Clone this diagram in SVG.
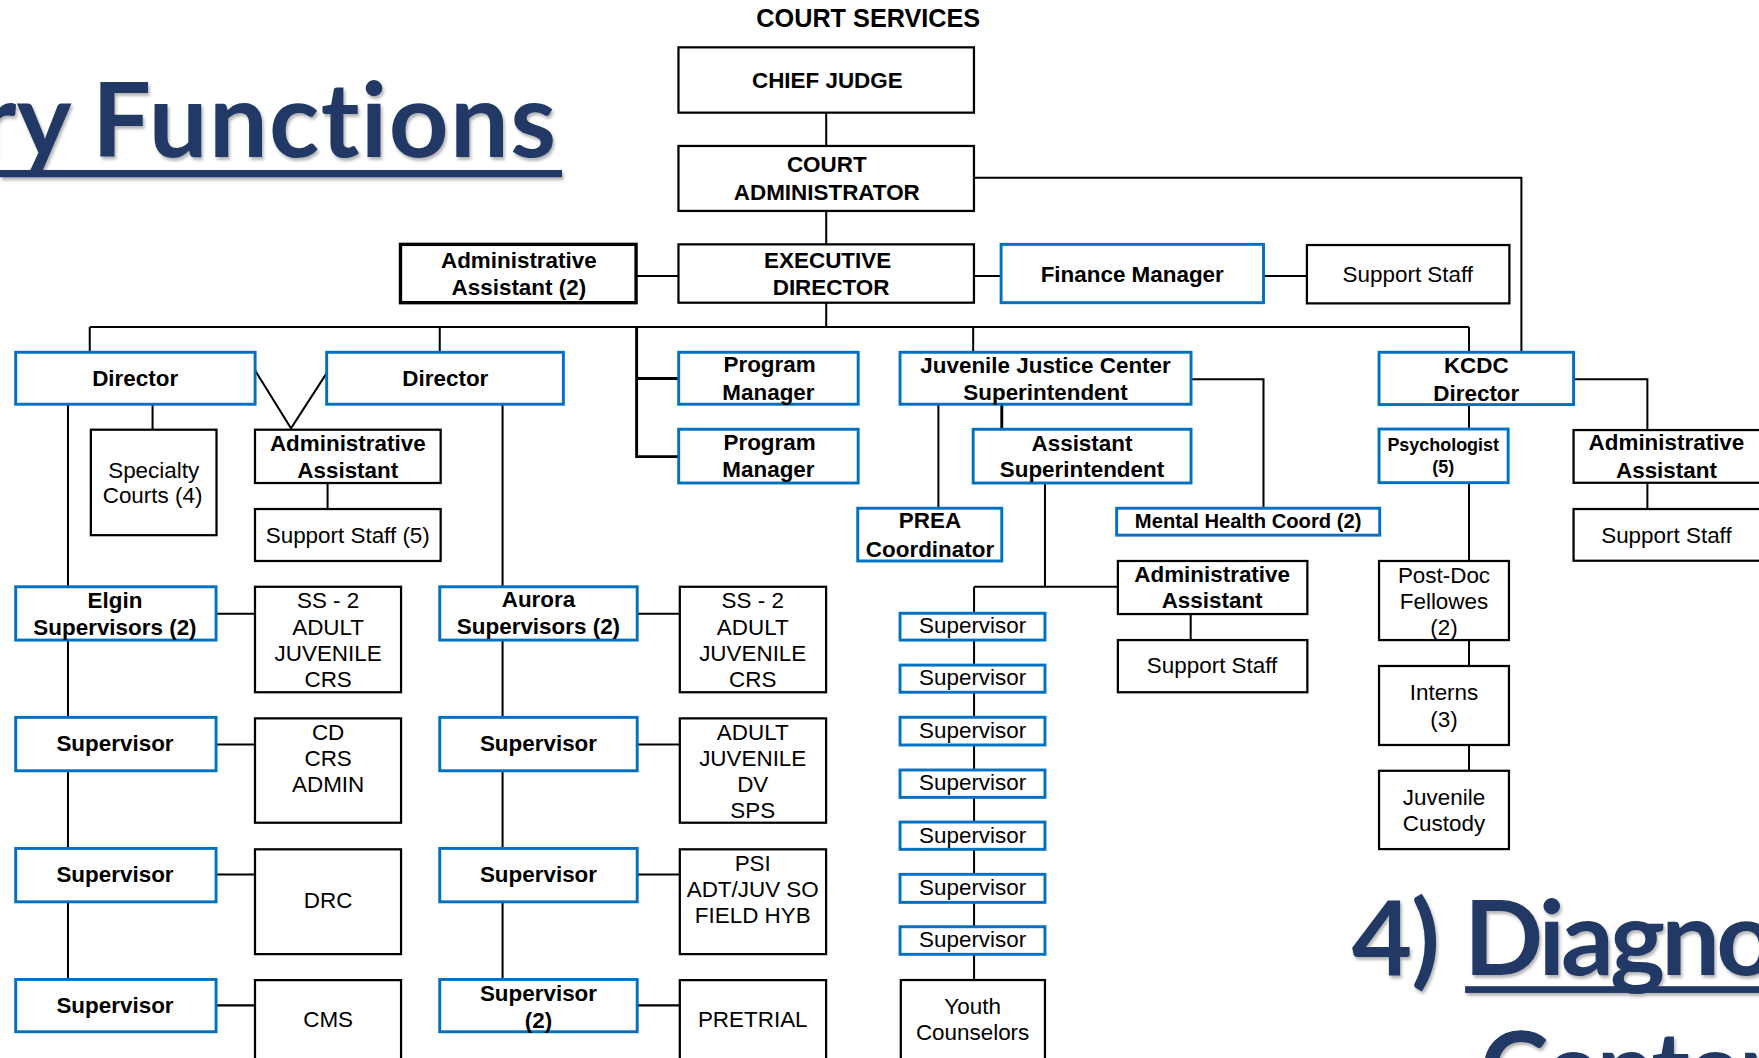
<svg xmlns="http://www.w3.org/2000/svg" width="1759" height="1058" viewBox="0 0 1759 1058">
<defs>
<filter id="sh" x="-5%" y="-20%" width="110%" height="140%">
<feDropShadow dx="1.5" dy="2.5" stdDeviation="1.5" flood-color="#000" flood-opacity="0.3"/>
</filter>
<style>
.k{fill:#fff;stroke:#000;stroke-width:2}
.kk{fill:#fff;stroke:#000;stroke-width:3}
.b{fill:#fff;stroke:#0070C0;stroke-width:2.6}
.ln{stroke:#000;stroke-width:1.8;fill:none}
.th{stroke:#000;stroke-width:2.6;fill:none}
text{font-family:"Liberation Sans",Arial,sans-serif;font-size:20px;text-anchor:middle;fill:#000}
.bd{font-weight:bold}
.ttl{font-family:Lato,"Open Sans",sans-serif;font-weight:bold;font-size:93px;fill:#213965;text-anchor:start;font-variant-ligatures:none}
</style>
</defs>
<rect width="1759" height="1058" fill="#fff"/>
<g transform="scale(1.12181,1.12195)">
<g id="title-left" filter="url(#sh)">
<text class="ttl" x="-20" y="140">ry <tspan x="82" letter-spacing="1.2">Functions</tspan></text>
<rect x="0" y="151.5" width="501" height="6.5" fill="#213965"/>
</g>
<g id="title-right" filter="url(#sh)">
<text class="ttl" x="1205" y="869" letter-spacing="-1">4) <tspan x="1305" letter-spacing="-3.5">Diagno</tspan></text>
<rect x="1306" y="879" width="270" height="6" fill="#213965"/>
<text class="ttl" x="1319" y="986" letter-spacing="-3">Center</text>
</g>
<text id="heading" class="bd" x="774" y="24" style="font-size:22.5px">COURT SERVICES</text>

<g id="connectors">
<path class="ln" d="M736.5 100.4V130.1M736.5 188V217.8M736.5 269.8V291.5"/>
<path class="ln" d="M868.2 158.4H1356.2V314"/>
<path class="ln" d="M567 246H605M868.2 246H892.4M1126.3 246H1165"/>
<path class="ln" d="M80 291.5H1309.5M80 291.5V314M392 291.5V314M867.5 291.5V314M1309.5 291.5V314"/>
<path class="th" d="M567.5 291.5V407H605M567.5 337.3H605"/>
<path class="ln" d="M227.3 330L259.4 381.7L291.2 332.6"/>
<path class="ln" d="M136 360V383M292 430.5V453.7"/>
<path class="ln" d="M60.6 360V873M448 360V873"/>
<path class="ln" d="M192.6 547H227M192.6 663.5H227M192.6 779.4H227M192.6 896.1H227"/>
<path class="ln" d="M568 547H606M568 663.5H606M568 779.4H606M568 896.1H606"/>
<path class="ln" d="M1061.7 338H1126.3V453"/>
<path class="ln" d="M836.5 360V453"/>
<path class="th" d="M893 360V382.6"/>
<path class="ln" d="M931.5 430.5V523M868.3 523H996.5M868.3 523V873.5M1061.4 547.3V570.5"/>
<path class="ln" d="M1402.7 338H1468.5V383.3M1468.5 430.3V453.7"/>
<path class="ln" d="M1309.5 361V687"/>
</g>

<g id="chief-judge"><rect class="k" x="604.8" y="42.2" width="263.4" height="58.2"/><text class="bd" x="737.5" y="78.7">CHIEF JUDGE</text></g>
<g id="court-administrator"><rect class="k" x="604.8" y="130.1" width="263.4" height="57.9"/><text class="bd" x="737" y="153">COURT</text><text class="bd" x="737" y="178.3">ADMINISTRATOR</text></g>
<g id="executive-director"><rect class="k" x="604.8" y="217.8" width="263.4" height="52"/><text class="bd" x="737.8" y="239.2">EXECUTIVE</text><text class="bd" x="740.8" y="263">DIRECTOR</text></g>
<g id="admin-assistant-2"><rect class="kk" x="357" y="217.8" width="210" height="52"/><text class="bd" x="462.5" y="239.2">Administrative</text><text class="bd" x="462.5" y="263">Assistant (2)</text></g>
<g id="finance-manager"><rect class="b" x="892.4" y="217.8" width="233.9" height="52"/><text class="bd" x="1009.3" y="251">Finance Manager</text></g>
<g id="support-staff-finance"><rect class="k" x="1165" y="218.4" width="180.5" height="52"/><text x="1255" y="251">Support Staff</text></g>

<g id="director-1"><rect class="b" x="14" y="314" width="213.4" height="46.3"/><text class="bd" x="120.5" y="344">Director</text></g>
<g id="director-2"><rect class="b" x="291.2" y="314" width="211" height="46.3"/><text class="bd" x="397" y="344">Director</text></g>
<g id="specialty-courts"><rect class="k" x="81" y="383" width="112" height="94"/><text x="137" y="425.8">Specialty</text><text x="136" y="448.6">Courts (4)</text></g>
<g id="admin-assistant-dir"><rect class="k" x="227.3" y="383" width="165.5" height="47.5"/><text class="bd" x="310" y="402">Administrative</text><text class="bd" x="310" y="425.8">Assistant</text></g>
<g id="support-staff-5"><rect class="k" x="227.3" y="453.7" width="165.5" height="46.3"/><text x="310" y="483.7">Support Staff (5)</text></g>

<g id="program-manager-1"><rect class="b" x="605" y="314" width="160" height="46.3"/><text class="bd" x="686" y="331.9">Program</text><text class="bd" x="685" y="356.6">Manager</text></g>
<g id="program-manager-2"><rect class="b" x="605" y="382.6" width="160" height="47.9"/><text class="bd" x="686" y="401">Program</text><text class="bd" x="685" y="424.9">Manager</text></g>

<g id="elgin-supervisors"><rect class="b" x="14" y="523" width="178.6" height="47.5"/><text class="bd" x="102.5" y="542.3">Elgin</text><text class="bd" x="102.5" y="566">Supervisors (2)</text></g>
<g id="elgin-ss2"><rect class="k" x="227.3" y="523" width="130.2" height="94"/><text x="292.5" y="542.3">SS - 2</text><text x="292.5" y="566">ADULT</text><text x="292.5" y="589">JUVENILE</text><text x="292.5" y="612">CRS</text></g>
<g id="elgin-supervisor-1"><rect class="b" x="14" y="639.4" width="178.6" height="47.6"/><text class="bd" x="102.5" y="669.4">Supervisor</text></g>
<g id="elgin-cd"><rect class="k" x="227.3" y="640.3" width="130.2" height="93"/><text x="292.5" y="660">CD</text><text x="292.5" y="682.8">CRS</text><text x="292.5" y="705.7">ADMIN</text></g>
<g id="elgin-supervisor-2"><rect class="b" x="14" y="756.2" width="178.6" height="47.6"/><text class="bd" x="102.5" y="786.2">Supervisor</text></g>
<g id="elgin-drc"><rect class="k" x="227.3" y="757" width="130.2" height="93.4"/><text x="292.5" y="809.7">DRC</text></g>
<g id="elgin-supervisor-3"><rect class="b" x="14" y="873" width="178.6" height="46.6"/><text class="bd" x="102.5" y="902.8">Supervisor</text></g>
<g id="elgin-cms"><rect class="k" x="227.3" y="873.6" width="130.2" height="90"/><text x="292.5" y="915">CMS</text></g>

<g id="aurora-supervisors"><rect class="b" x="392" y="523" width="176" height="47.5"/><text class="bd" x="480" y="540.8">Aurora</text><text class="bd" x="480" y="565.4">Supervisors (2)</text></g>
<g id="aurora-ss2"><rect class="k" x="606" y="523" width="130.4" height="94"/><text x="671" y="542.3">SS - 2</text><text x="671" y="566">ADULT</text><text x="671" y="589">JUVENILE</text><text x="671" y="612">CRS</text></g>
<g id="aurora-supervisor-1"><rect class="b" x="392" y="639.4" width="176" height="47.6"/><text class="bd" x="480" y="669.4">Supervisor</text></g>
<g id="aurora-adult"><rect class="k" x="606" y="640.3" width="130.4" height="93"/><text x="671" y="659.6">ADULT</text><text x="671" y="682.8">JUVENILE</text><text x="671" y="705.7">DV</text><text x="671" y="728.9">SPS</text></g>
<g id="aurora-supervisor-2"><rect class="b" x="392" y="756.2" width="176" height="47.6"/><text class="bd" x="480" y="786.2">Supervisor</text></g>
<g id="aurora-psi"><rect class="k" x="606" y="757" width="130.4" height="93.4"/><text x="671" y="776.4">PSI</text><text x="671" y="799.3">ADT/JUV SO</text><text x="671" y="822.4">FIELD HYB</text></g>
<g id="aurora-supervisor-3"><rect class="b" x="392" y="873" width="176" height="46.6"/><text class="bd" x="480" y="892.3">Supervisor</text><text class="bd" x="480" y="916">(2)</text></g>
<g id="aurora-pretrial"><rect class="k" x="606" y="873.6" width="130.4" height="90"/><text x="671" y="915">PRETRIAL</text></g>

<g id="jjc-superintendent"><rect class="b" x="802.3" y="314" width="259.4" height="46.3"/><text class="bd" x="932" y="332.2">Juvenile Justice Center</text><text class="bd" x="932" y="356.5">Superintendent</text></g>
<g id="assistant-superintendent"><rect class="b" x="867.5" y="382.6" width="194.2" height="47.9"/><text class="bd" x="964.5" y="401.7">Assistant</text><text class="bd" x="964.5" y="424.9">Superintendent</text></g>
<g id="prea-coordinator"><rect class="b" x="764.6" y="453" width="128.4" height="47"/><text class="bd" x="829" y="471">PREA</text><text class="bd" x="829" y="496.2">Coordinator</text></g>
<g id="mental-health-coord"><rect class="b" x="995.4" y="453" width="234.5" height="24"/><text class="bd" x="1112.6" y="471" style="font-size:18px">Mental Health Coord (2)</text></g>
<g id="jjc-admin-assistant"><rect class="k" x="996.5" y="500" width="168.9" height="47.3"/><text class="bd" x="1080.5" y="518.5">Administrative</text><text class="bd" x="1080.5" y="542.3">Assistant</text></g>
<g id="jjc-support-staff"><rect class="k" x="996.5" y="570.5" width="168.9" height="46.5"/><text x="1080.5" y="600.2">Support Staff</text></g>
<g id="jjc-supervisor-1"><rect class="b" x="802.3" y="546.6" width="129.2" height="23.9"/><text x="867" y="564.6">Supervisor</text></g>
<g id="jjc-supervisor-2"><rect class="b" x="802.3" y="592.8" width="129.2" height="24.2"/><text x="867" y="611">Supervisor</text></g>
<g id="jjc-supervisor-3"><rect class="b" x="802.3" y="639.3" width="129.2" height="24.7"/><text x="867" y="657.6">Supervisor</text></g>
<g id="jjc-supervisor-4"><rect class="b" x="802.3" y="686.3" width="129.2" height="24.4"/><text x="867" y="704.4">Supervisor</text></g>
<g id="jjc-supervisor-5"><rect class="b" x="802.3" y="732.7" width="129.2" height="24.3"/><text x="867" y="751">Supervisor</text></g>
<g id="jjc-supervisor-6"><rect class="b" x="802.3" y="779.3" width="129.2" height="25"/><text x="867" y="797.8">Supervisor</text></g>
<g id="jjc-supervisor-7"><rect class="b" x="802.3" y="826" width="129.2" height="24.6"/><text x="867" y="844.2">Supervisor</text></g>
<g id="youth-counselors"><rect class="k" x="803" y="873.5" width="128.5" height="90"/><text x="867" y="904">Youth</text><text x="867" y="927">Counselors</text></g>

<g id="kcdc-director"><rect class="b" x="1229.3" y="314" width="173.4" height="46.6"/><text class="bd" x="1316" y="332.2">KCDC</text><text class="bd" x="1316" y="357">Director</text></g>
<g id="psychologist"><rect class="b" x="1229.3" y="382.4" width="115.1" height="47.8"/><text class="bd" x="1286.5" y="402" style="font-size:16px">Psychologist</text><text class="bd" x="1286.5" y="422" style="font-size:16px">(5)</text></g>
<g id="post-doc"><rect class="k" x="1229.3" y="500" width="115.8" height="70.5"/><text x="1287.2" y="520">Post-Doc</text><text x="1287.2" y="543.1">Fellowes</text><text x="1287.2" y="566">(2)</text></g>
<g id="interns"><rect class="k" x="1229.3" y="593.6" width="115.8" height="70.4"/><text x="1287.2" y="624">Interns</text><text x="1287.2" y="647.7">(3)</text></g>
<g id="juvenile-custody"><rect class="k" x="1229.3" y="687" width="115.8" height="69.8"/><text x="1287.2" y="717.6">Juvenile</text><text x="1287.2" y="740.4">Custody</text></g>
<g id="kcdc-admin-assistant"><rect class="k" x="1402.7" y="383.3" width="175" height="47"/><text class="bd" x="1485.5" y="401">Administrative</text><text class="bd" x="1485.5" y="426.4">Assistant</text></g>
<g id="kcdc-support-staff"><rect class="k" x="1402.7" y="453.7" width="175" height="46.1"/><text x="1485.5" y="484.3">Support Staff</text></g>
</g>
</svg>
